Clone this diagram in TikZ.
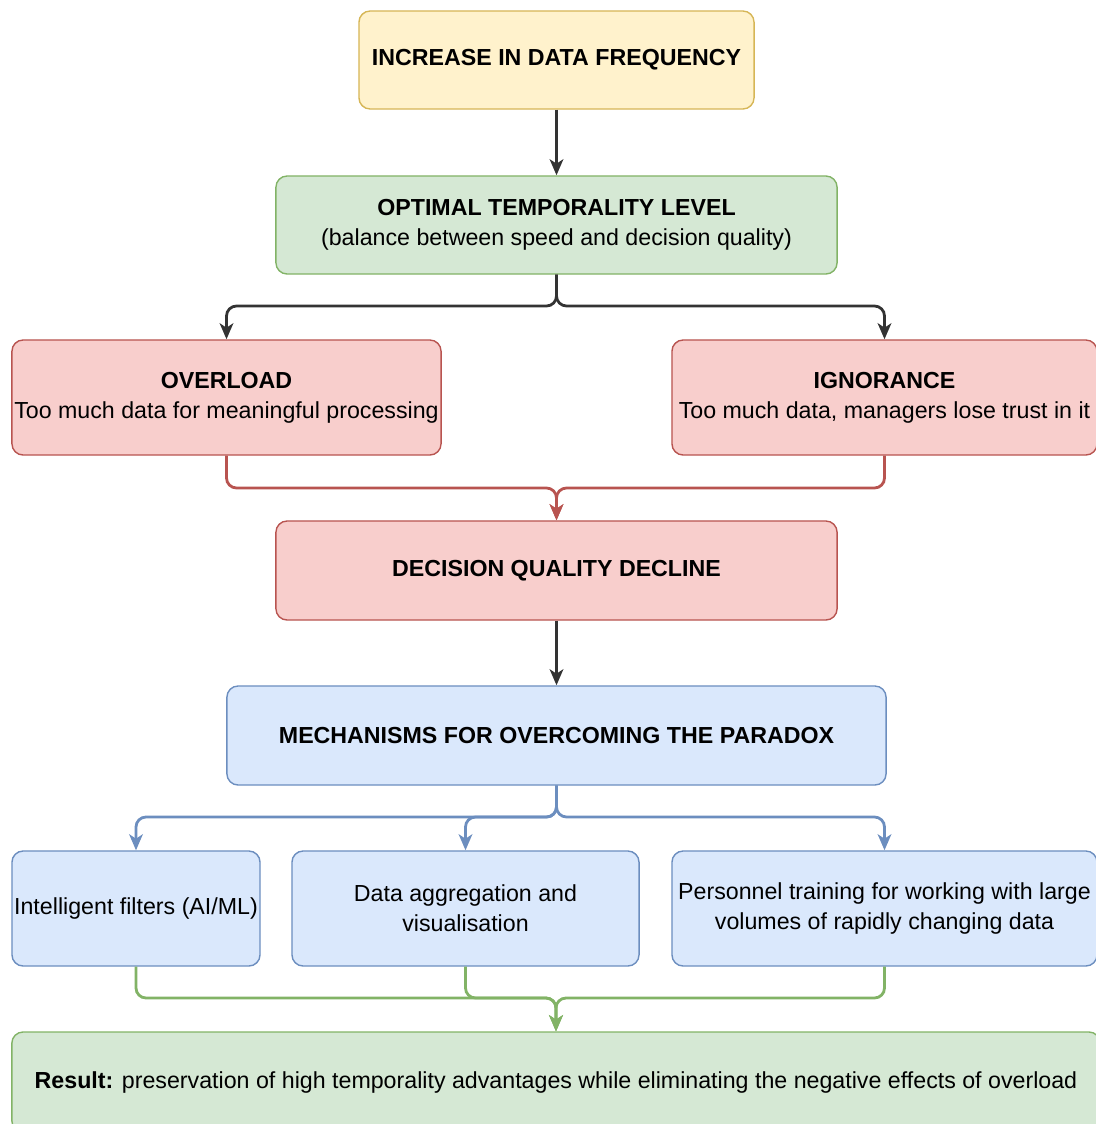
\documentclass[tikz,border=0pt]{standalone}
\usepackage{fontspec}
\setmainfont{Liberation Sans}
\usetikzlibrary{shapes,arrows.meta}
\definecolor{yellowfill}{HTML}{FFF2CC}
\definecolor{yellowline}{HTML}{D6B656}
\definecolor{greenfill}{HTML}{D5E8D4}
\definecolor{greenline}{HTML}{82B366}
\definecolor{redfill}{HTML}{F8CECC}
\definecolor{redline}{HTML}{B85450}
\definecolor{bluefill}{HTML}{DAE8FC}
\definecolor{blueline}{HTML}{6C8EBF}
\definecolor{darkline}{HTML}{333333}

\begin{document}
\begin{tikzpicture}[x=0.025cm,y=-0.025cm,->,>={Stealth[length=0.4cm,width=0.34cm,inset=0.11cm]},
  box/.style={rectangle,rounded corners=0.28cm,draw,line width=1pt,align=center,
    inner sep=0pt,font=\fontsize{16.5}{21.5}\selectfont},
  yellowbox/.style={box,fill=yellowfill,draw=yellowline},
  greenbox/.style={box,fill=greenfill,draw=greenline},
  redbox/.style={box,fill=redfill,draw=redline},
  bluebox/.style={box,fill=bluefill,draw=blueline},
  link/.style={line width=2pt,rounded corners=0.25cm}]
\useasboundingbox (0,0) rectangle (1096,1124);

\node[yellowbox,minimum width=9.875cm,minimum height=2.45cm] (freq) at (556.5,60)
  {\textbf{INCREASE IN DATA FREQUENCY}};
\node[greenbox,minimum width=14.025cm,minimum height=2.45cm] (optimal) at (556.5,225)
  {\textbf{OPTIMAL TEMPORALITY LEVEL}\\(balance between speed and decision quality)};
\node[redbox,minimum width=10.725cm,minimum height=2.875cm] (overload) at (226.5,397.5)
  {\textbf{OVERLOAD}\\Too much data for meaningful processing};
\node[redbox,minimum width=10.625cm,minimum height=2.875cm] (ignorance) at (884.5,397.5)
  {\textbf{IGNORANCE}\\Too much data, managers lose trust in it};
\node[redbox,minimum width=14.025cm,minimum height=2.475cm] (decline) at (556.5,570.5)
  {\textbf{DECISION QUALITY DECLINE}};
\node[bluebox,minimum width=16.475cm,minimum height=2.475cm] (mech) at (556.5,735.5)
  {\textbf{MECHANISMS FOR OVERCOMING THE PARADOX}};
\node[bluebox,minimum width=6.2cm,minimum height=2.875cm] (filters) at (136,908.5)
  {Intelligent filters (AI/ML)};
\node[bluebox,minimum width=8.675cm,minimum height=2.875cm] (aggr) at (465.5,908.5)
  {Data aggregation and\\visualisation};
\node[bluebox,minimum width=10.625cm,minimum height=2.875cm] (training) at (884.5,908.5)
  {Personnel training for working with large\\volumes of rapidly changing data};
\node[greenbox,minimum width=27.2cm,minimum height=2.5cm] (result) at (556,1082)
  {\textbf{Result:} preservation of high temporality advantages while eliminating the negative effects of overload};

% split and merge points
\coordinate (split1) at (556.5,306);
\coordinate (merge1) at (556.5,488);
\coordinate (split2) at (556.5,817);
\coordinate (merge2) at (556,998);

\draw[link,draw=darkline] (freq) -- (optimal);
\draw[link,draw=darkline] (optimal.south) -- (split1) -| (overload.north);
\draw[link,draw=darkline] (optimal.south) -- (split1) -| (ignorance.north);

\draw[link,draw=redline] (overload.south) |- (merge1) -- (decline.north);
\draw[link,draw=redline] (ignorance.south) |- (merge1) -- (decline.north);

\draw[link,draw=darkline] (decline) -- (mech);

\draw[link,draw=blueline] (mech.south) -- (split2) -| (filters.north);
\draw[link,draw=blueline] (mech.south) -- (split2) -| (aggr.north);
\draw[link,draw=blueline] (mech.south) -- (split2) -| (training.north);

\draw[link,draw=greenline] (filters.south) |- (merge2) -- (result.north);
\draw[link,draw=greenline] (aggr.south) |- (merge2) -- (result.north);
\draw[link,draw=greenline] (training.south) |- (merge2) -- (result.north);
\end{tikzpicture}
\end{document}
